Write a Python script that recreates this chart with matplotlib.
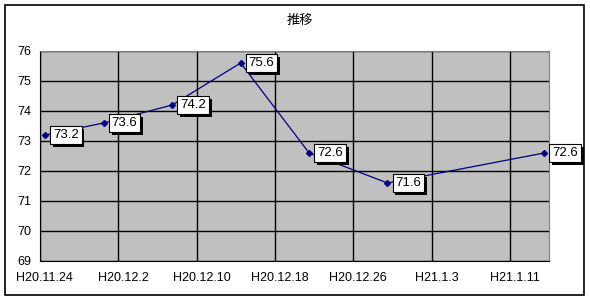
import datetime as dt
import matplotlib
matplotlib.use("Agg")
import matplotlib.pyplot as plt
import matplotlib.dates as mdates
import matplotlib.patheffects as pe
from matplotlib.patches import Rectangle

plt.rcParams["font.family"] = ["Noto Sans CJK JP", "DejaVu Sans"]

# data
dates = [dt.date(2008, 11, 24), dt.date(2008, 11, 30), dt.date(2008, 12, 7),
         dt.date(2008, 12, 14), dt.date(2008, 12, 21), dt.date(2008, 12, 29),
         dt.date(2009, 1, 14)]
values = [73.2, 73.6, 74.2, 75.6, 72.6, 71.6, 72.6]
tick_dates = [dt.date(2008, 11, 24), dt.date(2008, 12, 2), dt.date(2008, 12, 10),
              dt.date(2008, 12, 18), dt.date(2008, 12, 26), dt.date(2009, 1, 3),
              dt.date(2009, 1, 11)]
tick_labels = ["H20.11.24", "H20.12.2", "H20.12.10", "H20.12.18",
               "H20.12.26", "H21.1.3", "H21.1.11"]
title = "推移"

fig = plt.figure(figsize=(5.9, 3.0), dpi=100)
fig.patches.append(Rectangle((5 / 590, 5 / 300), 579 / 590, 290 / 300,
                             transform=fig.transFigure, fill=False,
                             edgecolor="black", linewidth=1.2))
ax = fig.add_axes([40 / 590, 39 / 300, 509 / 590, 210 / 300])
ax.set_facecolor("#c0c0c0")

# points sit in the middle of their day, like Excel's date axis
x = [mdates.date2num(d) + 0.5 for d in dates]
ax.plot(x, values, color="#000080", linewidth=0.9, marker="D", markersize=3,
        zorder=3)

for xi, v in zip(x, values):
    t = ax.annotate(f"{v:.1f}", (xi, v), xytext=(8, 0), textcoords="offset pixels",
                    ha="left", va="center", fontsize=9.5, family="Liberation Sans",
                    zorder=5,
                    bbox=dict(boxstyle="square,pad=0.22", facecolor="white",
                              edgecolor="black", linewidth=0.8))
    t.get_bbox_patch().set_path_effects(
        [pe.SimplePatchShadow(offset=(2, -2), shadow_rgbFace="black", alpha=1),
         pe.Normal()])

ax.set_xlim(mdates.date2num(dt.date(2008, 11, 24)),
            mdates.date2num(dt.date(2009, 1, 15)))
ax.set_ylim(69, 76)
ax.set_yticks(range(69, 77))
ax.set_xticks([mdates.date2num(d) for d in tick_dates], minor=True)
ax.set_xticks([mdates.date2num(d) + 0.5 for d in tick_dates])
ax.set_xticklabels(tick_labels)
ax.grid(True, which="minor", axis="x", color="black", linewidth=1)
ax.grid(True, which="major", axis="y", color="black", linewidth=1)
ax.tick_params(which="both", length=0, labelsize=9)
for lab in ax.get_xticklabels() + ax.get_yticklabels():
    lab.set_family("Liberation Sans")
ax.tick_params(axis="x", pad=8)
ax.tick_params(axis="y", pad=16.5)
for lab in ax.get_yticklabels():
    lab.set_horizontalalignment("left")

ax.spines["left"].set_color("black")
ax.spines["bottom"].set_color("black")
ax.spines["top"].set_color("#808080")
ax.spines["right"].set_color("#808080")

fig.text(300 / 590, 1 - 20 / 300, title, ha="center", va="center", fontsize=9.5)

fig.savefig("out.png", dpi=100)
